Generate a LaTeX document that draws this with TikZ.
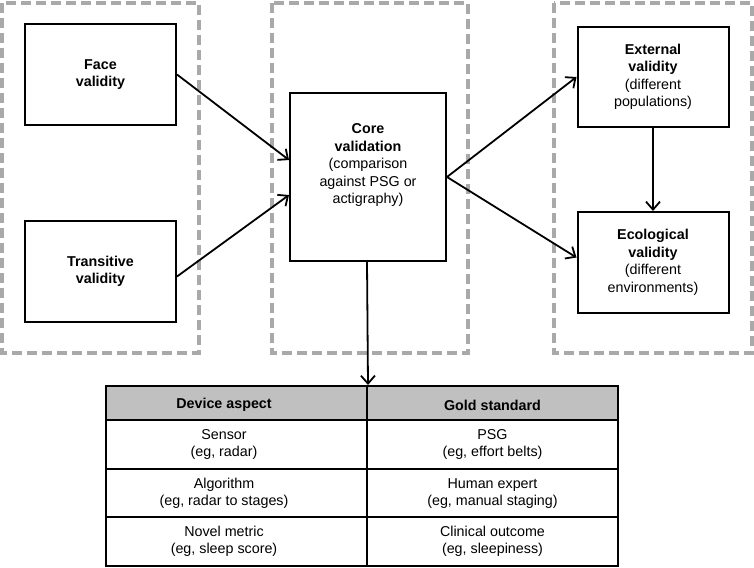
\documentclass[tikz,border=0pt]{standalone}
\usepackage{fontspec}
\setmainfont{Liberation Sans}
\usetikzlibrary{arrows.meta,calc}
\definecolor{dashgray}{RGB}{169,169,169}
\definecolor{headgray}{RGB}{192,192,192}
\tikzset{
  grp/.style={draw=dashgray, line width=4pt, dash pattern=on 10pt off 5pt},
  vbox/.style={draw=black, line width=2pt, rectangle, inner sep=0pt, align=center,
    minimum width=151pt, minimum height=101pt},
  cell/.style={draw=black, line width=2pt, rectangle, inner sep=0pt},
  ctext/.style={align=center, inner sep=0pt},
  conn/.style={line width=1.8pt, -{Straight Barb[length=8pt,width=14pt,line width=1.8pt]}},
}
\begin{document}
\begin{tikzpicture}[x=1pt,y=-1pt, font=\fontsize{14.3}{17.5}\selectfont]
\useasboundingbox (0,0) rectangle (754,567);
% dashed groups
\draw[grp] (2,3) rectangle (199,353);
\draw[grp] (272,3) rectangle (468,353);
\draw[grp] (554,3) rectangle (752,353);
% boxes
\node[vbox] (face) at (100.5,74.5) {\textbf{Face}\\\textbf{validity}};
\node[vbox] (trans) at (100.5,271.5) {\textbf{Transitive}\\\textbf{validity}};
\node[vbox, minimum width=156pt, minimum height=168pt] (core) at (368,177) {};
\node[ctext] (coretxt) at (368,165) {\textbf{Core}\\\textbf{validation}\\(comparison\\against PSG or\\actigraphy)};
\node[vbox, minimum height=100pt] (ext) at (653,77) {\textbf{External}\\\textbf{validity}\\(different\\populations)};
\node[vbox] (eco) at (653,262.5) {\textbf{Ecological}\\\textbf{validity}\\(different\\environments)};
% table cells
\node[cell, fill=headgray, minimum width=261pt, minimum height=34pt] (h1) at (236.5,403) {};
\node[cell, fill=headgray, minimum width=251pt, minimum height=34pt] (h2) at (492.5,403) {};
\node[cell, minimum width=261pt, minimum height=49pt] (a1) at (236.5,444.5) {};
\node[cell, minimum width=251pt, minimum height=49pt] (b1) at (492.5,444.5) {};
\node[cell, minimum width=261pt, minimum height=48pt] (a2) at (236.5,493) {};
\node[cell, minimum width=251pt, minimum height=48pt] (b2) at (492.5,493) {};
\node[cell, minimum width=261pt, minimum height=49pt] (a3) at (236.5,541.5) {};
\node[cell, minimum width=251pt, minimum height=49pt] (b3) at (492.5,541.5) {};
% table texts
\node[ctext] (th1) at (224,405) {\textbf{Device aspect}};
\node[ctext] (th2) at (492.5,405) {\textbf{Gold standard}};
\node[ctext] (t11) at (224,444.5) {Sensor\\(eg, radar)};
\node[ctext] (t12) at (492.5,444.5) {PSG\\(eg, effort belts)};
\node[ctext] (t21) at (224,493.5) {Algorithm\\(eg, radar to stages)};
\node[ctext] (t22) at (492.5,493.5) {Human expert\\(eg, manual staging)};
\node[ctext] (t31) at (224,541.5) {Novel metric\\(eg, sleep score)};
\node[ctext] (t32) at (492.5,541.5) {Clinical outcome\\(eg, sleepiness)};
% connectors
\draw[conn] (face.east) -- ($(core.west)+(0,-17)$);
\draw[conn] ($(trans.east)+(0,5)$) -- ($(core.west)+(0,18)$);
\draw[conn] (core.east) -- (ext.west);
\draw[conn] (core.east) -- ($(eco.west)+(0,-5)$);
\draw[conn] (ext.south) -- (eco.north);
\draw[conn] ($(core.south)+(-1,0)$) -- (h1.north east);
\end{tikzpicture}
\end{document}
